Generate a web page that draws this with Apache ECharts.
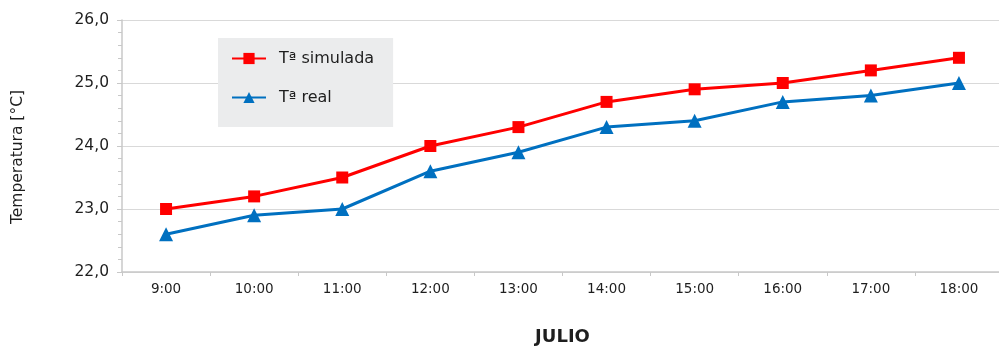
<!DOCTYPE html>
<html>
<head>
<meta charset="utf-8">
<script src="https://cdn.jsdelivr.net/npm/echarts@6/dist/echarts.min.js"></script>
<style>
  html, body { margin: 0; padding: 0; background: #fff; }
  #chart { width: 999px; height: 349px; }
</style>
</head>
<body>
<div id="chart"></div>
<script>
// Hourly temperatures for July: simulated vs measured
const hours = ['9:00', '10:00', '11:00', '12:00', '13:00', '14:00', '15:00', '16:00', '17:00', '18:00'];
const tempSimulada = [23.0, 23.2, 23.5, 24.0, 24.3, 24.7, 24.9, 25.0, 25.2, 25.4];
const tempReal = [22.6, 22.9, 23.0, 23.6, 23.9, 24.3, 24.4, 24.7, 24.8, 25.0];
const seriesNames = ['Tª simulada', 'Tª real'];

const FONT = 'DejaVu Sans';
const chart = echarts.init(document.getElementById('chart'), null, { renderer: 'canvas' });

chart.setOption({
  animation: false,
  backgroundColor: '#ffffff',
  textStyle: { fontFamily: FONT },
  // the plot runs a little past the right edge of the canvas
  grid: { left: 122, right: -4, top: 20, bottom: 77, containLabel: false, outerBoundsMode: 'none' },
  legend: {
    left: 218,
    top: 38,
    orient: 'vertical',
    backgroundColor: '#ebeced',
    padding: [11, 19, 20, 13],
    itemGap: 20,
    itemWidth: 34,
    itemHeight: 14,
    textStyle: { fontFamily: FONT, fontSize: 16, lineHeight: 19, color: '#1e1e1e', padding: [0, 0, 0, 8] },
    data: seriesNames
  },
  xAxis: {
    type: 'category',
    data: hours,
    boundaryGap: true,
    name: 'JULIO',
    nameLocation: 'middle',
    nameGap: 56,
    nameTextStyle: { fontFamily: FONT, fontSize: 18, fontWeight: 'bold', color: '#1e1e1e' },
    axisLine: { lineStyle: { color: '#c8c8c8', width: 1.5 } },
    axisTick: { show: true, length: 4, lineStyle: { color: '#c8c8c8' } },
    axisLabel: { fontFamily: FONT, fontSize: 13.5, color: '#1e1e1e', margin: 10 },
    splitLine: { show: false }
  },
  yAxis: {
    type: 'value',
    min: 22,
    max: 26,
    interval: 1,
    name: 'Temperatura [°C]',
    nameLocation: 'middle',
    nameRotate: 90,
    nameGap: 96,
    // extra trailing padding nudges the rotated title a little lower
    nameTextStyle: { fontFamily: FONT, fontSize: 15.5, color: '#1e1e1e', padding: [0, 22, 0, 0] },
    axisLine: { show: true, lineStyle: { color: '#c8c8c8', width: 1.5 } },
    axisTick: { show: true, length: 5, lineStyle: { color: '#c8c8c8' } },
    minorTick: { show: true, splitNumber: 5, length: 4, lineStyle: { color: '#c8c8c8' } },
    axisLabel: {
      fontFamily: FONT, fontSize: 15.5, color: '#1e1e1e', margin: 13,
      formatter: v => v.toFixed(1).replace('.', ',')
    },
    splitLine: { show: true, lineStyle: { color: '#d9d9d9', width: 1 } }
  },
  series: [
    {
      name: seriesNames[0],
      type: 'line',
      data: tempSimulada,
      symbol: 'rect',
      symbolSize: 12,
      lineStyle: { color: '#ff0000', width: 3 },
      itemStyle: { color: '#ff0000' }
    },
    {
      name: seriesNames[1],
      type: 'line',
      data: tempReal,
      symbol: 'triangle',
      symbolSize: 14,
      lineStyle: { color: '#0070c0', width: 3 },
      itemStyle: { color: '#0070c0' }
    }
  ]
});
</script>
</body>
</html>
